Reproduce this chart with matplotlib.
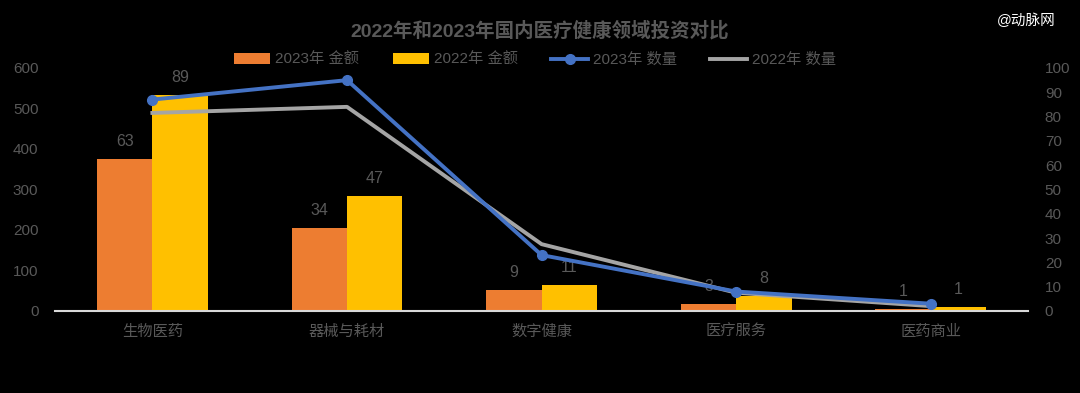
import matplotlib.pyplot as plt
import numpy as np

plt.rcParams['font.family'] = ['Liberation Sans', 'Noto Sans CJK SC', 'DejaVu Sans']

categories = ['生物医药', '器械与耗材', '数字健康', '医疗服务', '医药商业']
amount_2023 = [375, 205, 52, 17, 5]
amount_2022 = [533, 284, 64, 37, 10]
count_2023 = [87, 95, 23, 8, 3]
count_2022 = [81.5, 84, 27.5, 7.5, 2]
label_2023 = ['63', '34', '9', '3', '1']
label_2022 = ['89', '47', '11', '8', '1']

gray = '#595959'
fig = plt.figure(figsize=(10.8, 3.93), dpi=100, facecolor='black')
ax = fig.add_axes([0.051, 0.2087, 0.901, 0.6183])
ax.set_facecolor('black')
x = np.arange(len(categories))
w = 0.285

b1 = ax.bar(x - w / 2, amount_2023, w, color='#ED7D31', label='2023年 金额', zorder=2)
b2 = ax.bar(x + w / 2, amount_2022, w, color='#FFC000', label='2022年 金额', zorder=2)
for i in range(len(x)):
    ax.text(x[i] - w / 2, amount_2023[i] + 25, label_2023[i], ha='center', va='bottom',
            color=gray, fontsize=11.5, zorder=5)
    ax.text(x[i] + w / 2, amount_2022[i] + 25, label_2022[i], ha='center', va='bottom',
            color=gray, fontsize=11.5, zorder=5)

ax.set_xlim(-0.5, 4.5)
ax.set_ylim(0, 600)
ax.set_yticks(range(0, 601, 100))
ax.set_xticks(x)
ax.set_xticklabels(categories, fontsize=11, color=gray)
ax.tick_params(axis='y', colors=gray, labelsize=11, length=0, pad=12)
ax.tick_params(axis='x', length=0, pad=10)
for s in ['top', 'right', 'left']:
    ax.spines[s].set_visible(False)
ax.spines['bottom'].set_color('#D9D9D9')
ax.spines['bottom'].set_linewidth(1.5)

ax2 = ax.twinx()
l1, = ax2.plot(x, count_2023, color='#4472C4', lw=2.8, marker='o', ms=7, label='2023年 数量', zorder=4)
l2, = ax2.plot(x, count_2022, color='#A5A5A5', lw=2.8, label='2022年 数量', zorder=3)
ax2.set_ylim(0, 100)
ax2.set_yticks(range(0, 101, 10))
ax2.tick_params(axis='y', colors=gray, labelsize=11, length=0, pad=12)
for s in ax2.spines.values():
    s.set_visible(False)

fig.text(0.5, 0.922, '2022年和2023年国内医疗健康领域投资对比', ha='center', va='center',
         fontsize=14, fontweight='bold', color=gray)
fig.text(0.977, 0.948, '@动脉网', ha='right', va='center', fontsize=10.5, color='white')
fig.legend([b1, b2, l1, l2], ['2023年 金额', '2022年 金额', '2023年 数量', '2022年 数量'],
           loc='center', bbox_to_anchor=(0.495, 0.848), ncol=4, frameon=False,
           fontsize=11, labelcolor=gray, handlelength=2.4, columnspacing=2.2,
           handletextpad=0.3)

fig.savefig('out.png', dpi=100, facecolor='black')
